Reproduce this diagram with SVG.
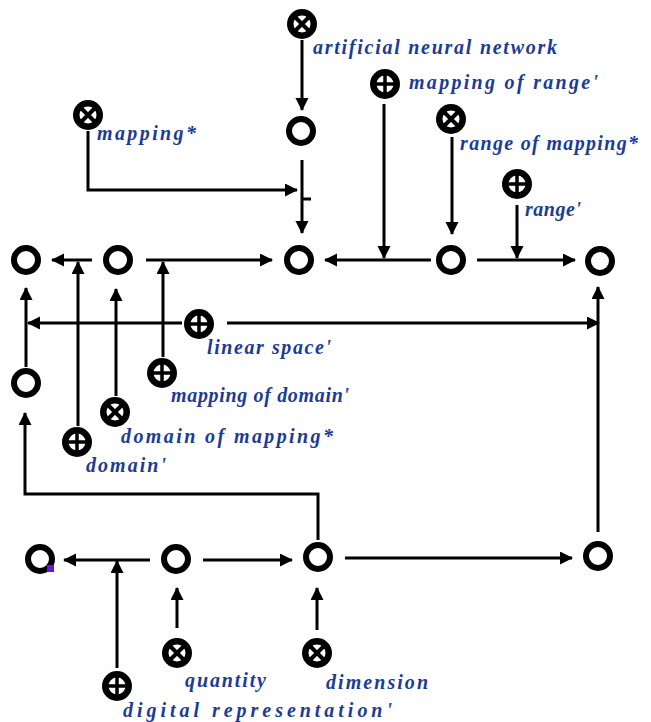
<svg xmlns="http://www.w3.org/2000/svg" xmlns:xlink="http://www.w3.org/1999/xlink" width="651" height="722" viewBox="0 0 651 722">
  <style>
    .ring { fill: none; stroke: #000; stroke-width: 6; }
    .edge { fill: none; stroke: #000; stroke-width: 3; }
    .lbl { font-family: "Liberation Serif", "Times New Roman", serif; font-weight: bold; font-style: italic; font-size: 20px; fill: #1c3b98; }
  </style>
  <defs>
    <marker id="arrow" markerUnits="userSpaceOnUse" markerWidth="14" markerHeight="14" refX="12" refY="6.5" orient="auto">
      <path d="M0,0 L13,6.5 L0,13 z" fill="#000"/>
    </marker>
    <!-- filled disc with a plus cross -->
    <g id="oplus">
      <circle r="15" fill="#000"/>
      <circle r="8.5" fill="#fff"/>
      <path d="M-9,0 H9 M0,-9 V9" stroke="#000" stroke-width="3.5"/>
    </g>
    <!-- filled disc with a diagonal cross -->
    <g id="otimes">
      <circle r="15" fill="#000"/>
      <circle r="8.5" fill="#fff"/>
      <path d="M-7,-7 L7,7 M7,-7 L-7,7" stroke="#000" stroke-width="4"/>
    </g>
  </defs>
  <rect width="651" height="722" fill="#fff"/>

  <!-- connectors -->
  <g id="connectors" class="edge" marker-end="url(#arrow)">
    <path d="M302,40 V110"/>
    <path d="M302,160 V233"/>
    <path d="M88,131 V190 H297"/>
    <path d="M302,199 H311" marker-end="none"/>
    <path d="M92,260 H52"/>
    <path d="M78,426 V262"/>
    <path d="M146,260 H272"/>
    <path d="M163,357 V262"/>
    <path d="M116,396 V289"/>
    <path d="M26,367 V288"/>
    <path d="M182,323 H28"/>
    <path d="M227,323 H599"/>
    <path d="M318,540 V494 H25 V413"/>
    <path d="M345,558 H572"/>
    <path d="M598,532 V287"/>
    <path d="M431,260 H325"/>
    <path d="M384,104 V258"/>
    <path d="M477,260 H575"/>
    <path d="M517,205 V258"/>
    <path d="M452,137 V234"/>
    <path d="M150,560 H64"/>
    <path d="M117,668 V561"/>
    <path d="M203,560 H292"/>
    <path d="M177,628 V588"/>
    <path d="M317,630 V588"/>
  </g>

  <!-- open nodes -->
  <g id="a"><circle class="ring" cx="26" cy="260" r="12"/></g>
  <g id="b"><circle class="ring" cx="118" cy="260" r="12"/></g>
  <g id="c"><circle class="ring" cx="299" cy="260" r="12"/></g>
  <g id="d"><circle class="ring" cx="451" cy="260" r="12"/></g>
  <g id="e"><circle class="ring" cx="600" cy="261" r="12"/></g>
  <g id="f"><circle class="ring" cx="301" cy="131" r="12"/></g>
  <g id="g"><circle class="ring" cx="26" cy="383" r="12"/></g>
  <g id="h"><circle class="ring" cx="40" cy="559" r="12"/><rect x="47" y="565" width="7" height="7" fill="#6a14d8"/></g>
  <g id="i"><circle class="ring" cx="176" cy="559" r="12"/></g>
  <g id="j"><circle class="ring" cx="318" cy="557" r="12"/></g>
  <g id="k"><circle class="ring" cx="598" cy="556" r="12"/></g>

  <!-- labelled nodes -->
  <g id="ann"><use xlink:href="#otimes" x="302" y="24"/><text class="lbl" x="313" y="54" textLength="244">artificial neural network</text></g>
  <g id="mapping"><use xlink:href="#otimes" x="88" y="115"/><text class="lbl" x="97" y="140" textLength="99">mapping*</text></g>
  <g id="mapping-of-range"><use xlink:href="#oplus" x="385" y="84"/><text class="lbl" x="409" y="89" textLength="189">mapping of range'</text></g>
  <g id="range-of-mapping"><use xlink:href="#otimes" x="451" y="119"/><text class="lbl" x="460" y="150" textLength="178">range of mapping*</text></g>
  <g id="range"><use xlink:href="#oplus" x="517" y="184"/><text class="lbl" x="525" y="216" textLength="56">range'</text></g>
  <g id="linear-space"><use xlink:href="#oplus" x="199" y="324"/><text class="lbl" x="207" y="354" textLength="124">linear space'</text></g>
  <g id="mapping-of-domain"><use xlink:href="#oplus" x="162" y="373"/><text class="lbl" x="171" y="402" textLength="178">mapping of domain'</text></g>
  <g id="domain-of-mapping"><use xlink:href="#otimes" x="115" y="412"/><text class="lbl" x="121" y="443" textLength="212">domain of mapping*</text></g>
  <g id="domain"><use xlink:href="#oplus" x="77" y="442"/><text class="lbl" x="86" y="472" textLength="80">domain'</text></g>
  <g id="quantity"><use xlink:href="#otimes" x="177" y="653"/><text class="lbl" x="185" y="687" textLength="81">quantity</text></g>
  <g id="dimension"><use xlink:href="#otimes" x="317" y="653"/><text class="lbl" x="326" y="689" textLength="102">dimension</text></g>
  <g id="digital-representation"><use xlink:href="#oplus" x="117" y="686"/><text class="lbl" x="123" y="717" textLength="269">digital representation'</text></g>
</svg>
